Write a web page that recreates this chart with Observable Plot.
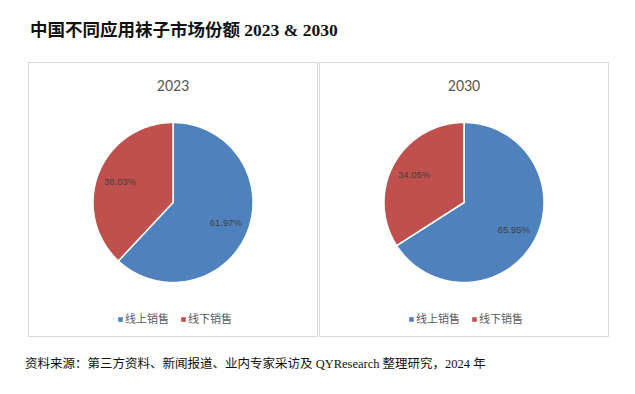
<!DOCTYPE html>
<html><head><meta charset="utf-8">
<script src="https://cdn.jsdelivr.net/npm/d3@7"></script>
<script src="https://cdn.jsdelivr.net/npm/@observablehq/plot@0.6"></script>
<style>
body{margin:0;background:#fff;}
#wrap{position:relative;width:635px;height:394px;overflow:hidden;}
#title{position:absolute;left:30px;top:16px;font:bold 17.5px "Liberation Serif","Noto Sans CJK SC",serif;color:#111;white-space:nowrap;}
#chart{position:absolute;left:0;top:61px;}
#cap{position:absolute;left:25px;top:353px;font:12.5px "Liberation Serif","Noto Sans CJK SC",serif;color:#111;white-space:nowrap;}
</style></head>
<body><div id="wrap">
<div id="title">中国不同应用袜子市场份额 2023 &amp; 2030</div>
<div id="chart"></div>
<div id="cap">资料来源：第三方资料、新闻报道、业内专家采访及 QYResearch 整理研究，2024 年</div>
</div>
<script>
const years = ["2023", "2030"];
const categories = ["线上销售", "线下销售"];
const online = [61.97, 65.95];
const offline = [38.03, 34.05];
const colors = ["#4F81BD", "#C0504D"];

const pie = d3.pie().sort(null).value(d => d.value);
const polys = [];
const labels = [];
years.forEach((yr, i) => {
  const rows = [
    {year: yr, name: categories[0], value: online[i]},
    {year: yr, name: categories[1], value: offline[i]}
  ];
  pie(rows).forEach(a => {
    const key = yr + "-" + a.data.name;
    polys.push({year: yr, name: a.data.name, key, x: 0, y: 0});
    const n = Math.max(2, Math.ceil((a.endAngle - a.startAngle) / 0.02));
    for (let k = 0; k <= n; k++) {
      const t = a.startAngle + (a.endAngle - a.startAngle) * k / n;
      polys.push({year: yr, name: a.data.name, key, x: Math.sin(t), y: Math.cos(t)});
    }
    const m = (a.startAngle + a.endAngle) / 2, lr = 0.71;
    labels.push({year: yr, x: lr * Math.sin(m), y: lr * Math.cos(m), text: a.data.value.toFixed(2) + "%"});
  });
});

const legendMarks = [];
const legendOffsets = [-52.5, 10.5];
categories.forEach((c, j) => {
  const ld = years.map(y => ({year: y, name: c}));
  legendMarks.push(Plot.dot(ld, {fx: "year", frameAnchor: "bottom", dy: -17, dx: legendOffsets[j], symbol: "square", r: 2.6, fill: "name", stroke: null}));
  legendMarks.push(Plot.text(ld, {fx: "year", frameAnchor: "bottom", lineAnchor: "middle", dy: -17, dx: legendOffsets[j] + 4.5, text: "name", textAnchor: "start", fill: "#595959", fontSize: 11, fontFamily: "Noto Sans CJK SC"}));
});

const chart = Plot.plot({
  width: 635, height: 276,
  marginLeft: 28, marginRight: 27, marginTop: 1, marginBottom: 1,
  style: {background: "transparent"},
  fx: {axis: null, domain: years, paddingInner: 0.007, paddingOuter: 0},
  x: {axis: null, domain: [-1.806, 1.806]},
  y: {axis: null, domain: [-1.675, 1.75]},
  color: {domain: categories, range: colors},
  marks: [
    Plot.frame({stroke: "#d9d9d9", strokeWidth: 1}),
    Plot.line(polys, {fx: "year", x: "x", y: "y", z: "key", fill: "name", stroke: "white", strokeWidth: 1.5, curve: "linear-closed"}),
    Plot.text(labels, {fx: "year", x: "x", y: "y", text: "text", fill: "#404040", fontSize: 9.5, fontFamily: "Liberation Sans"}),
    Plot.text(years.map(y => ({year: y})), {fx: "year", frameAnchor: "top", lineAnchor: "middle", dy: 23, text: "year", fill: "#595959", fontSize: 16, fontFamily: "Carlito, Liberation Sans"}),
    ...legendMarks
  ]
});
document.getElementById("chart").appendChild(chart);
</script>
</body></html>
